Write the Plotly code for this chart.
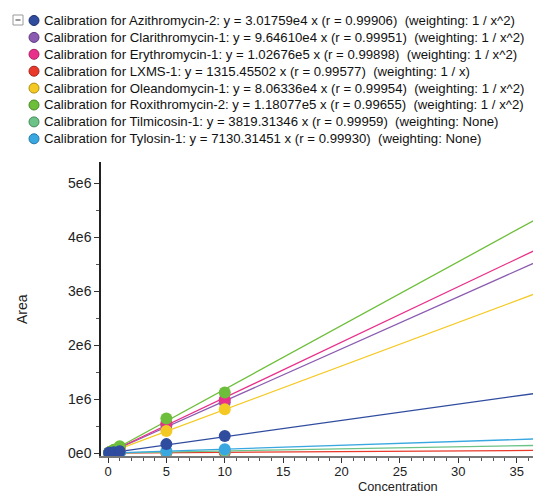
import plotly.graph_objects as go

# ---- data ----
compounds = ["Azithromycin-2", "Clarithromycin-1", "Erythromycin-1", "LXMS-1",
             "Oleandomycin-1", "Roxithromycin-2", "Tilmicosin-1", "Tylosin-1"]
slopes = [3.01759e4, 9.64610e4, 1.02676e5, 1315.45502, 8.06336e4, 1.18077e5, 3819.31346, 7130.31451]
slope_txt = ["3.01759e4", "9.64610e4", "1.02676e5", "1315.45502", "8.06336e4", "1.18077e5", "3819.31346", "7130.31451"]
r_vals = ["0.99906", "0.99951", "0.99898", "0.99577", "0.99954", "0.99655", "0.99959", "0.99930"]
weights = ["1 / x^2", "1 / x^2", "1 / x^2", "1 / x", "1 / x^2", "1 / x^2", "None", "None"]
colors = ["#2f4c9f", "#8a5bb0", "#e8308a", "#e8392a", "#f5c924", "#6dbe3a", "#6cc287", "#3aa8e0"]
edge_colors = ["#1d2f6b", "#5e3a80", "#a81f60", "#a8241a", "#b08e10", "#4a8a25", "#468a5a", "#2378a8"]

conc = [0.1, 0.2, 0.5, 1, 5, 10]
areas = {
    "Azithromycin-2":   [3.2e3, 6.5e3, 1.6e4, 3.1e4, 1.65e5, 3.15e5],
    "Clarithromycin-1": [9.5e3, 1.9e4, 4.9e4, 9.8e4, 5.1e5, 9.4e5],
    "Erythromycin-1":   [1.0e4, 2.1e4, 5.1e4, 1.03e5, 5.5e5, 9.9e5],
    "LXMS-1":           [150, 270, 640, 1300, 6800, 1.3e4],
    "Oleandomycin-1":   [8.1e3, 1.6e4, 4.0e4, 8.1e4, 4.1e5, 8.1e5],
    "Roxithromycin-2":  [1.2e4, 2.4e4, 6.0e4, 1.25e5, 6.4e5, 1.12e6],
    "Tilmicosin-1":     [400, 800, 1900, 3900, 1.9e4, 3.8e4],
    "Tylosin-1":        [700, 1400, 3600, 7200, 3.6e4, 7.1e4],
}
line_x = [0, 40]

x_ticks = [0, 5, 10, 15, 20, 25, 30, 35]
y_ticks = [0, 1e6, 2e6, 3e6, 4e6, 5e6]
y_tick_text = ["0e0", "1e6", "2e6", "3e6", "4e6", "5e6"]

FONT = "Liberation Sans, Arial, sans-serif"
W, H = 533, 496
ML, MR, MT, MB = 101, 0, 162, 40

fig = go.Figure()

draw_order = [1, 2, 3, 4, 5, 6, 7, 0]
for i in draw_order:
    name = compounds[i]
    fig.add_trace(go.Scatter(
        x=line_x, y=[slopes[i] * v for v in line_x], mode="lines",
        line=dict(color=colors[i], width=1.3), showlegend=False, hoverinfo="skip"))
for i in draw_order:
    name = compounds[i]
    fig.add_trace(go.Scatter(
        x=conc, y=areas[name], mode="markers", name=name,
        marker=dict(color=colors[i], size=12, line=dict(width=0)), showlegend=False))

# legend drawn as annotations + shapes
pw = W - ML - MR
ph = H - MT - MB
def px_x(p):
    return (p - ML) / pw
def px_y(p):
    return (H - MB - p) / ph

annotations = []
shapes = []
row0, row_gap = 20.5, 16.9
for i, name in enumerate(compounds):
    yc = row0 + row_gap * i
    label = (f"Calibration for {name}: y = {slope_txt[i]} x (r = {r_vals[i]})"
             f"&nbsp;&nbsp;(weighting: {weights[i]})")
    annotations.append(dict(
        x=px_x(42), y=px_y(yc), xref="paper", yref="paper", text=label,
        showarrow=False, xanchor="left", yanchor="middle",
        font=dict(family=FONT, size=13.2, color="#111111")))
    shapes.append(dict(
        type="circle", xref="paper", yref="paper", xsizemode="pixel", ysizemode="pixel",
        xanchor=px_x(34), yanchor=px_y(yc), x0=-5, x1=5, y0=-5, y1=5,
        fillcolor=colors[i], line=dict(color=edge_colors[i], width=1)))

# collapse box "−"
shapes.append(dict(type="rect", xref="paper", yref="paper",
                   x0=px_x(13), x1=px_x(23), y0=px_y(25), y1=px_y(15),
                   line=dict(color="#9a9a9a", width=1), fillcolor="white"))
shapes.append(dict(type="line", xref="paper", yref="paper",
                   x0=px_x(15.5), x1=px_x(20.5), y0=px_y(20), y1=px_y(20),
                   line=dict(color="#333333", width=1)))

annotations.append(dict(x=px_x(398), y=px_y(496), xref="paper", yref="paper",
                        text="Concentration", showarrow=False, xanchor="center", yanchor="bottom",
                        font=dict(family=FONT, size=12.8, color="#222222")))
annotations.append(dict(x=px_x(22), y=px_y(309), xref="paper", yref="paper",
                        text="Area", showarrow=False, textangle=-90, xanchor="center", yanchor="middle",
                        font=dict(family=FONT, size=14, color="#222222")))

fig.update_layout(
    width=W, height=H,
    margin=dict(l=ML, r=MR, t=MT, b=MB, pad=0),
    paper_bgcolor="white", plot_bgcolor="white",
    font=dict(family=FONT, size=14, color="#222222"),
    showlegend=False,
    annotations=annotations, shapes=shapes,
    xaxis=dict(range=[-0.6, 36.4], tickvals=x_ticks, ticks="outside", ticklen=5,
               ticklabelstandoff=-3,
               tickcolor="#333333", showgrid=False, zeroline=False,
               showline=True, linecolor="#777777", linewidth=2,
               minor=dict(dtick=1, tick0=0, ticks="outside", ticklen=3, tickcolor="#555555"),
               tickfont=dict(family=FONT, size=13, color="#222222")),
    yaxis=dict(range=[-0.055e6, 5.39e6], tickvals=y_ticks, ticktext=y_tick_text,
               ticks="outside", ticklen=5, tickcolor="#333333", showgrid=False, zeroline=False,
               showline=True, linecolor="#222222", linewidth=1.5,
               minor=dict(dtick=5e5, tick0=0, ticks="outside", ticklen=3, tickcolor="#555555"),
               tickfont=dict(family=FONT, size=14, color="#222222")),
)

fig.write_html("out.html")
